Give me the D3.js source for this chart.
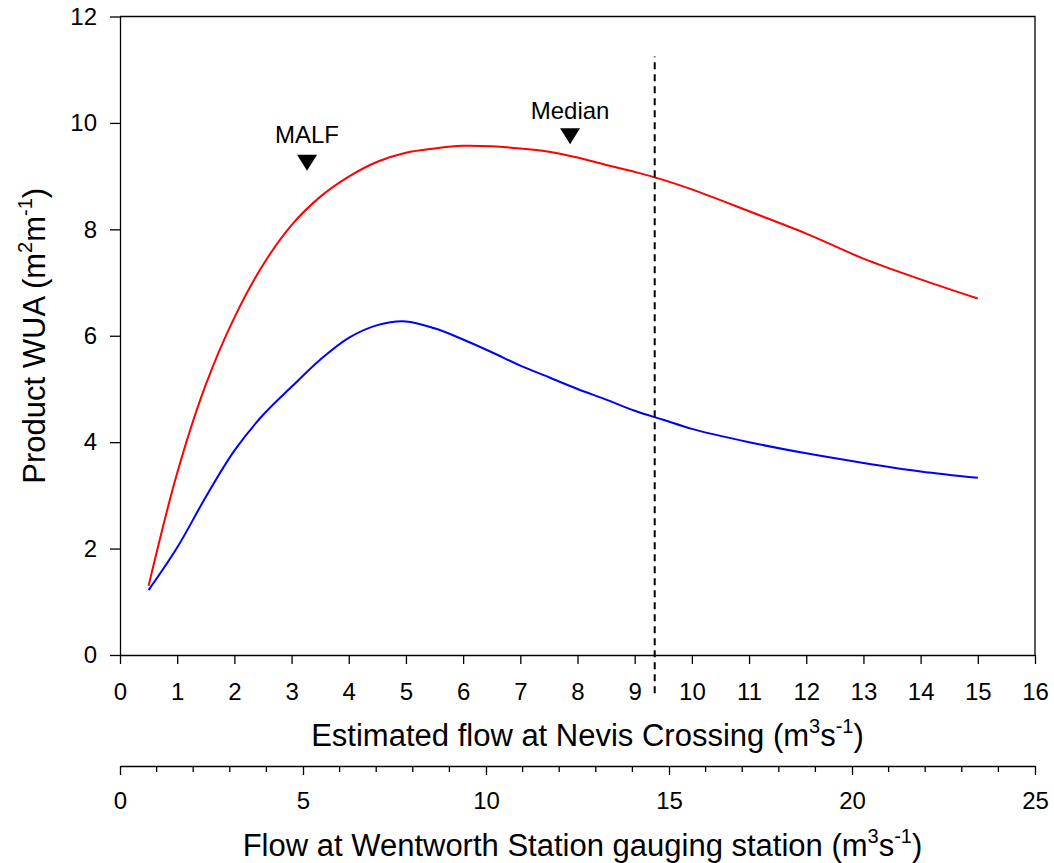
<!DOCTYPE html>
<html>
<head>
<meta charset="utf-8">
<script src="https://cdn.jsdelivr.net/npm/d3@7"></script>
<style>
  html, body { margin: 0; padding: 0; background: #fff; }
  svg { display: block; font-family: "Liberation Sans", Arial, sans-serif; }
</style>
</head>
<body>
<svg id="chart" width="1054" height="863"></svg>
<script>
// ---- data ----
const flow = [0.5, 1, 1.5, 2, 2.5, 3, 3.5, 4, 4.5, 5, 5.5, 6, 6.5, 7, 7.5, 8, 8.5, 9, 9.5, 10, 11, 12, 13, 14, 15];
const redWUA = [1.3, 3.42, 5.08, 6.34, 7.33, 8.08, 8.61, 8.99, 9.27, 9.44, 9.52, 9.57, 9.56, 9.52, 9.46, 9.35, 9.21, 9.08, 8.93, 8.75, 8.34, 7.92, 7.45, 7.06, 6.70];
const blueWUA = [1.22, 2.02, 2.97, 3.84, 4.51, 5.04, 5.55, 5.96, 6.2, 6.27, 6.14, 5.93, 5.69, 5.44, 5.22, 5.0, 4.8, 4.59, 4.42, 4.25, 4.0, 3.79, 3.61, 3.45, 3.33];
const xTicks = [0, 1, 2, 3, 4, 5, 6, 7, 8, 9, 10, 11, 12, 13, 14, 15, 16];
const yTicks = [0, 2, 4, 6, 8, 10, 12];
const x2MajorTicks = [0, 5, 10, 15, 20, 25];
const x2MinorTicks = d3.range(0, 26, 1);
const markerNames = ["MALF", "Median"];
const markerX = [3.27, 7.87];
const markerY = [9.25, 9.75];
const dashX = 9.35;
const dashY = [-0.72, 11.25];

// ---- layout ----
const svg = d3.select("#chart");
const mLeft = 120, mRight = 1035, mTop = 16.5, mBottom = 655;
const x = d3.scaleLinear().domain([0, 16]).range([mLeft, mRight]);
const y = d3.scaleLinear().domain([0, 12]).range([mBottom, mTop]);
const x2 = d3.scaleLinear().domain([0, 25]).range([mLeft, mRight]);
const axisY2 = 766;
const tickFont = 24, titleFont = 31, supFont = 20;

// frame (top and right)
svg.append("path")
  .attr("d", `M${mLeft},${mTop}H${mRight}V${mBottom}`)
  .attr("fill", "none").attr("stroke", "#000").attr("stroke-width", 1.3);

// x axis
const gx = svg.append("g").attr("transform", `translate(0,${mBottom})`)
  .call(d3.axisBottom(x).tickValues(xTicks).tickSize(9).tickPadding(19).tickSizeOuter(0));
gx.selectAll("text").attr("font-size", tickFont).attr("fill", "#000");
gx.selectAll("line, path").attr("stroke", "#000").attr("stroke-width", 1.3);

// y axis
const gy = svg.append("g").attr("transform", `translate(${mLeft},0)`)
  .call(d3.axisLeft(y).tickValues(yTicks).tickSize(10).tickPadding(13).tickSizeOuter(0));
gy.selectAll("text").attr("font-size", tickFont).attr("fill", "#000");
gy.selectAll("line, path").attr("stroke", "#000").attr("stroke-width", 1.3);

// secondary x axis
const g2 = svg.append("g").attr("transform", `translate(0,${axisY2})`)
  .call(d3.axisBottom(x2).tickValues(x2MajorTicks).tickSize(9).tickPadding(17).tickSizeOuter(0));
g2.selectAll("text").attr("font-size", tickFont).attr("fill", "#000");
g2.selectAll("line, path").attr("stroke", "#000").attr("stroke-width", 1.3);
g2.selectAll("line.minor").data(x2MinorTicks.filter(d => d % 5 !== 0)).enter()
  .append("line").attr("class", "minor")
  .attr("x1", d => x2(d)).attr("x2", d => x2(d))
  .attr("y1", 0).attr("y2", 6)
  .attr("stroke", "#000").attr("stroke-width", 1.3);

// curves
const line = d3.line().x(d => x(d[0])).y(d => y(d[1])).curve(d3.curveCatmullRom.alpha(0.5));
svg.append("path").datum(flow.map((f, i) => [f, blueWUA[i]]))
  .attr("d", line).attr("fill", "none").attr("stroke", "#0000ff").attr("stroke-width", 2);
svg.append("path").datum(flow.map((f, i) => [f, redWUA[i]]))
  .attr("d", line).attr("fill", "none").attr("stroke", "#ff0000").attr("stroke-width", 2);

// dashed vertical line
svg.append("line")
  .attr("x1", x(dashX)).attr("x2", x(dashX))
  .attr("y1", y(dashY[0])).attr("y2", y(dashY[1]))
  .attr("stroke", "#000").attr("stroke-width", 2).attr("stroke-dasharray", "7,5");

// markers (downward triangles)
const labelGap = [20, 17];
markerNames.forEach((name, i) => {
  const cx = x(markerX[i]), cy = y(markerY[i]);
  svg.append("path")
    .attr("d", `M${cx - 10},${cy - 8}L${cx + 10},${cy - 8}L${cx},${cy + 8}Z`)
    .attr("fill", "#000");
  svg.append("text").attr("x", cx).attr("y", cy - labelGap[i])
    .attr("text-anchor", "middle").attr("font-size", tickFont).attr("fill", "#000")
    .text(name);
});

// axis titles
function unitTitle(t, parts) {
  parts.forEach(([txt, isSup]) => {
    t.append("tspan").attr("font-size", isSup ? supFont : null)
      .attr("dy", isSup ? -13 : 13).text(txt);
  });
}
const tx = svg.append("text").attr("x", (mLeft + mRight) / 2 + 10).attr("y", 746)
  .attr("text-anchor", "middle").attr("font-size", titleFont).attr("fill", "#000");
tx.append("tspan").text("Estimated flow at Nevis Crossing (m");
unitTitle(tx, [["3", true], ["s", false], ["-1", true], [")", false]]);

const tx2 = svg.append("text").attr("x", (mLeft + mRight) / 2 + 5).attr("y", 856)
  .attr("text-anchor", "middle").attr("font-size", titleFont).attr("fill", "#000");
tx2.append("tspan").text("Flow at Wentworth Station gauging station (m");
unitTitle(tx2, [["3", true], ["s", false], ["-1", true], [")", false]]);

const ty = svg.append("text")
  .attr("transform", `translate(45,${(mTop + mBottom) / 2}) rotate(-90)`)
  .attr("text-anchor", "middle").attr("font-size", titleFont).attr("fill", "#000");
ty.append("tspan").text("Product WUA (m");
unitTitle(ty, [["2", true], ["m", false], ["-1", true], [")", false]]);
</script>
</body>
</html>
